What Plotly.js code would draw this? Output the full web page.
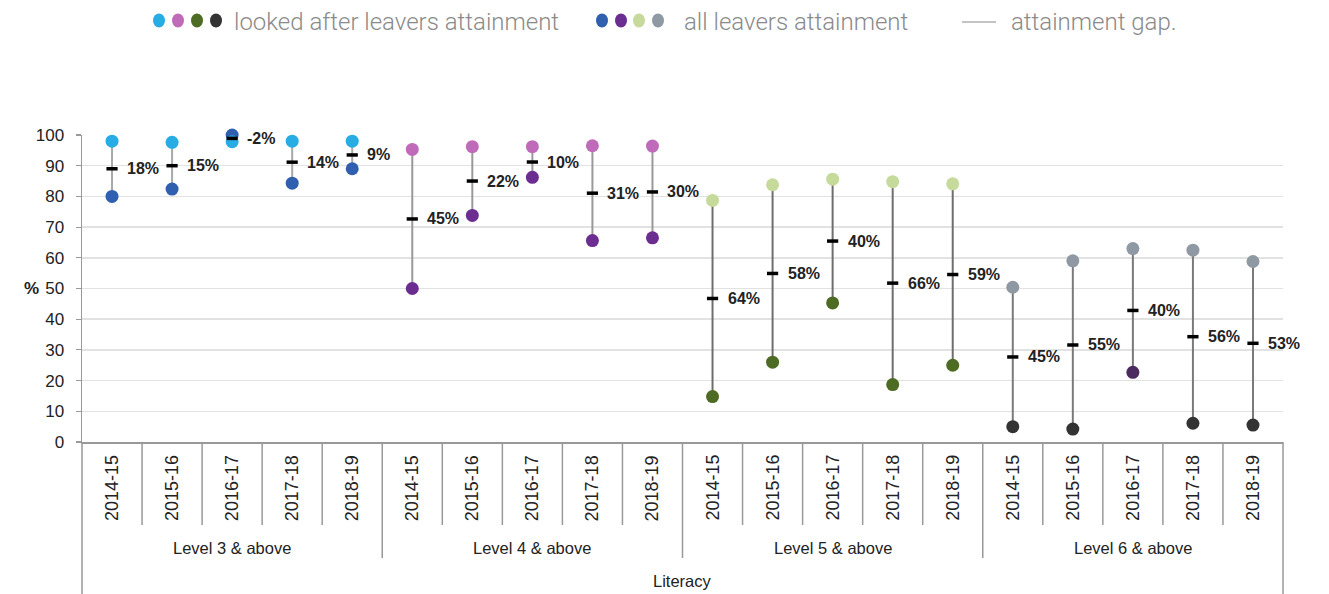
<!DOCTYPE html>
<html>
<head>
<meta charset="utf-8">
<script src="https://cdn.plot.ly/plotly-3.0.1.min.js"></script>
<style>html,body{margin:0;padding:0;background:#fff;}#chart{width:1329px;height:594px;}</style>
</head>
<body>
<div id="chart"></div>
<script>
// ---- data ----
const levels = ['Level 3 & above', 'Level 4 & above', 'Level 5 & above', 'Level 6 & above'];
const years = ['2014-15', '2015-16', '2016-17', '2017-18', '2018-19'];
const groupLabel = 'Literacy';
const lookedAfter = [98, 97.6, 97.8, 98, 98,
                     95.3, 96.2, 96.2, 96.5, 96.4,
                     14.8, 26, 45.3, 18.7, 25,
                     5, 4.2, 22.7, 6.1, 5.5];
const allLeavers = [80, 82.4, 100, 84.3, 89,
                    50, 73.8, 86.2, 65.6, 66.5,
                    78.7, 83.8, 85.6, 84.8, 84.1,
                    50.4, 59, 63, 62.5, 58.8];
const gapLabels = [18, 15, -2, 14, 9,
                   45, 22, 10, 31, 30,
                   64, 58, 40, 66, 59,
                   45, 55, 40, 56, 53];
const yTicks = [0, 10, 20, 30, 40, 50, 60, 70, 80, 90, 100];
const legendTexts = ['looked after leavers attainment', 'all leavers attainment', 'attainment gap.'];

// ---- styles ----
const lookedAfterColors = ['#27ade3', '#bf6bb9', '#4e6b23', '#333333'];
const allLeaversColors = ['#2f5fae', '#6b2d90', '#c6da9b', '#8f99a3'];
const lineColors = ['#a8a8a8', '#999999', '#6e6e6e', '#7a7a7a'];
const specialDot = {index: 17, color: '#4b2a5f'};

// ---- build ----
const cats = [];
const catLevel = [];
const catYear = [];
levels.forEach((lv, li) => years.forEach(yr => { cats.push(cats.length); catLevel.push(li); catYear.push(yr); }));
const n = cats.length;

const traces = [];
levels.forEach((lv, li) => {
  const xs = [], ys = [];
  for (let i = 0; i < n; i++) {
    if (catLevel[i] !== li) continue;
    xs.push(cats[i], cats[i], null);
    ys.push(lookedAfter[i], allLeavers[i], null);
  }
  traces.push({type: 'scatter', mode: 'lines', x: xs, y: ys, line: {color: lineColors[li], width: 2},
               hoverinfo: 'skip', showlegend: false, cliponaxis: false});
});
traces.push({type: 'scatter', mode: 'markers', x: cats, y: allLeavers, name: 'all leavers attainment',
  marker: {size: 13, color: cats.map(i => allLeaversColors[catLevel[i]])}, showlegend: false, cliponaxis: false});
traces.push({type: 'scatter', mode: 'markers', x: cats, y: lookedAfter, name: 'looked after leavers attainment',
  marker: {size: 13, color: cats.map(i => i === specialDot.index ? specialDot.color : lookedAfterColors[catLevel[i]])},
  showlegend: false, cliponaxis: false});
const mids = cats.map(i => (lookedAfter[i] + allLeavers[i]) / 2);
traces.push({type: 'scatter', mode: 'markers', x: cats, y: mids, name: 'attainment gap',
  marker: {symbol: 'line-ew', size: 8, line: {color: '#000', width: 3.5}}, showlegend: false, cliponaxis: false});

const ML = 82, MR = 46, MT = 135, MB = 152, W = 1329, H = 594;
const PW = W - ML - MR, PH = H - MT - MB;
const px = x => (x - ML) / PW;
const py = y => (H - MB - y) / PH;
const textFont = {family: 'Liberation Sans, Arial, sans-serif', color: '#222'};

const annotations = [];
cats.forEach(i => {
  annotations.push({x: cats[i], y: mids[i], xref: 'x', yref: 'y', text: gapLabels[i] + '%', showarrow: false,
    xanchor: 'left', yanchor: 'middle', xshift: 13,
    font: Object.assign({}, textFont, {size: 16, weight: 'bold'})});
  annotations.push({x: cats[i], y: py(488), xref: 'x', yref: 'paper', text: catYear[i], showarrow: false,
    textangle: -90, xanchor: 'center', yanchor: 'middle',
    font: Object.assign({}, textFont, {size: 18})});
});
levels.forEach((lv, li) => {
  const idx = cats.filter(i => catLevel[i] === li);
  const cx = (idx[0] + idx[idx.length - 1]) / 2;
  annotations.push({x: cx, y: py(548), xref: 'x', yref: 'paper', text: lv, showarrow: false,
    xanchor: 'center', yanchor: 'middle', font: Object.assign({}, textFont, {size: 16.5})});
});
annotations.push({x: 0.5, y: py(581), xref: 'paper', yref: 'paper', text: groupLabel, showarrow: false,
  xanchor: 'center', yanchor: 'middle', font: Object.assign({}, textFont, {size: 16.5})});
annotations.push({x: px(31), y: 50, xref: 'paper', yref: 'y', text: '%', showarrow: false,
  xanchor: 'center', yanchor: 'middle', font: Object.assign({}, textFont, {size: 17, weight: 'bold'})});

// legend
const legFont = {family: 'Roboto, Liberation Sans, sans-serif', size: 24, color: '#8a8a8a', weight: 300};
const legendTextX = [232, 682, 1009];
legendTexts.forEach((t, k) => {
  annotations.push({x: px(legendTextX[k]), y: py(22), xref: 'paper', yref: 'paper', showarrow: false,
    xanchor: 'left', yanchor: 'middle', text: t, font: legFont});
});

const shapes = [];
const legendDotX = [[159, 178, 197, 216], [602, 621, 639, 658]];
[lookedAfterColors, allLeaversColors].forEach((cols, g) => {
  cols.forEach((c, j) => {
    const cx = legendDotX[g][j];
    shapes.push({type: 'circle', xref: 'paper', yref: 'paper', x0: px(cx - 6), x1: px(cx + 6),
      y0: py(27.5), y1: py(13.5), fillcolor: c, line: {width: 0}});
  });
});
shapes.push({type: 'line', xref: 'paper', yref: 'paper', x0: px(962), x1: px(996), y0: py(22), y1: py(22),
  line: {color: '#8a8a8a', width: 1.2}});
for (let k = 0; k <= n; k++) {
  let bottom = py(525);
  if (k === 0 || k === n) bottom = py(H + 2);
  else if (k % years.length === 0) bottom = py(558);
  shapes.push({type: 'line', xref: 'paper', yref: 'paper', x0: k / n, x1: k / n, y0: 0, y1: bottom,
    line: {color: '#999', width: 1.5}});
}

const layout = {
  width: W, height: H,
  margin: {l: ML, r: MR, t: MT, b: MB, pad: 0},
  paper_bgcolor: '#fff', plot_bgcolor: '#fff',
  showlegend: false,
  xaxis: {range: [-0.5, n - 0.5], showticklabels: false, showgrid: false, zeroline: false,
          showline: true, linecolor: '#999', linewidth: 1.5, ticks: '', fixedrange: true},
  yaxis: {range: [0, 100], tickvals: yTicks, ticktext: yTicks.map(String), showgrid: true,
          gridcolor: '#e2e2e2', gridwidth: 1.5, zeroline: false, showline: true, linecolor: '#999', linewidth: 1.5,
          ticks: 'outside', ticklen: 5, tickcolor: '#999', tickwidth: 1.2, ticklabelstandoff: 8,
          tickfont: {family: 'Liberation Sans, Arial, sans-serif', size: 17, color: '#222'}, fixedrange: true},
  annotations: annotations,
  shapes: shapes
};

Plotly.newPlot('chart', traces, layout, {displayModeBar: false, staticPlot: true});
</script>
</body>
</html>
